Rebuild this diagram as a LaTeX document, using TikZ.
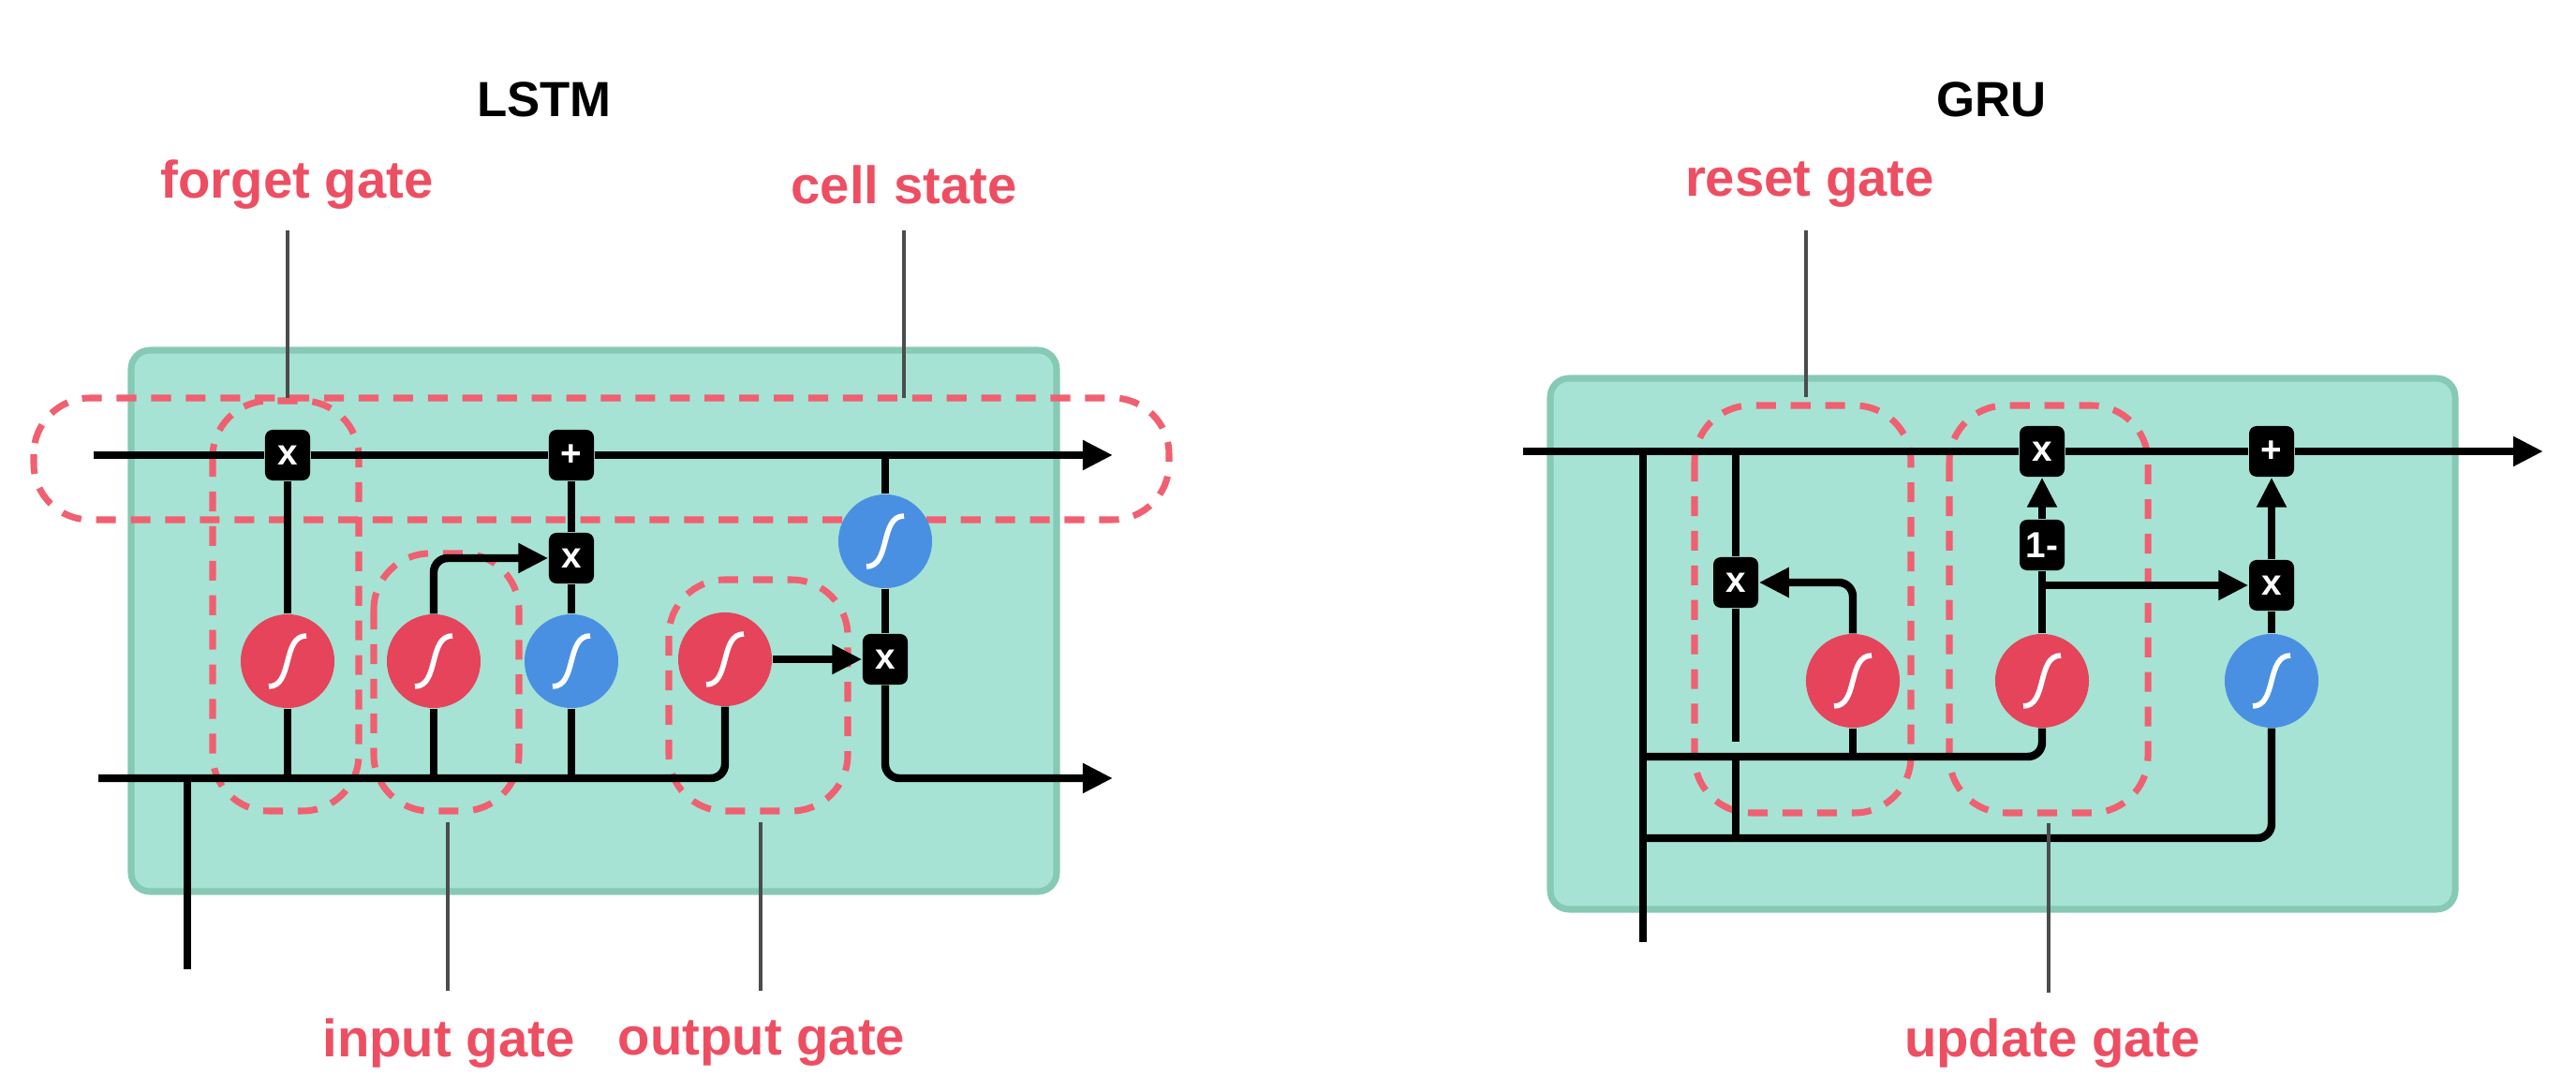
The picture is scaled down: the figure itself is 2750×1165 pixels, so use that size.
\documentclass[tikz,border=0pt]{standalone}
\usepackage{fontspec}
\setmainfont{Liberation Sans}
\usetikzlibrary{arrows.meta}
\definecolor{cellg}{HTML}{A6E3D4}
\definecolor{cellb}{HTML}{86C9B5}
\definecolor{sred}{HTML}{E5445A}
\definecolor{sblue}{HTML}{4A90E2}
\definecolor{dred}{HTML}{F06070}
\definecolor{lred}{HTML}{EE4E62}
\begin{document}
\begin{tikzpicture}[x=0.01cm,y=-0.01cm,
  cell/.style={fill=cellg,draw=cellb,line width=2pt,rounded corners=0.2cm},
  dsh/.style={draw=dred,line width=2pt,dash pattern=on 6pt off 4.5pt,rounded corners=0.6cm},
  op/.style={fill=black,text=white,rounded corners=0.08cm,minimum width=0.48cm,minimum height=0.54cm,inner sep=0pt,font=\bfseries\fontsize{11}{11}\selectfont},
  sg/.style={circle,minimum size=1cm,inner sep=0pt,fill=#1,
    path picture={\draw[white,line width=1.6pt] ([xshift=-0.2cm,yshift=-0.27cm]path picture bounding box.center) .. controls +(0.26cm,0cm) and +(-0.26cm,0cm) .. ([xshift=0.2cm,yshift=0.27cm]path picture bounding box.center);}},
  ln/.style={line width=2.4pt,rounded corners=0.15cm},
  ar/.style={ln,-{Triangle[length=0.32cm,width=0.3cm]}},
  lab/.style={text=lred,font=\bfseries\fontsize{16}{19}\selectfont},
  ttl/.style={font=\bfseries\fontsize{15}{18}\selectfont},
  pt/.style={draw=black!70,line width=1.2pt}]
\useasboundingbox (0,0) rectangle (2750,1165);
% ===== LSTM =====
\draw[cell] (140,374) rectangle (1128,952);
\draw[dsh] (36,425) rectangle (1248,555);
\draw[dsh] (227,428) rectangle (383,866);
\draw[dsh] (399,591) rectangle (554,866);
\draw[dsh] (714,619) rectangle (905,866);
\node[op] (fx) at (307,486) {x};
\node[op] (pl) at (610,486) {+};
\node[op] (ix) at (610,596) {x};
\node[op] (ox) at (945,704) {x};
\node[sg=sblue] (tt) at (945,578) {};
\node[sg=sred] (sf) at (307,706) {};
\node[sg=sred] (si) at (463,706) {};
\node[sg=sblue] (tc) at (610,706) {};
\node[sg=sred] (so) at (774,704) {};
\coordinate (cin) at (100,486);
\coordinate (cout) at (1188,486);
\coordinate (tj) at (945,486);
\coordinate (hin) at (105,831);
\coordinate (hout) at (1188,831);
\coordinate (xin) at (200,1035);
\coordinate (xj) at (200,831);
\draw[ln] (cin) -- (fx);
\draw[ln] (fx) -- (pl);
\draw[ar] (pl) -- (cout);
\draw[ln] (tj) -- (tt);
\draw[ln] (tt) -- (ox);
\draw[ar] (ox) |- (hout);
\draw[ln] (hin) -| (so);
\draw[ln] (xin) -- (xj);
\draw[ln] (sf) -- (fx);
\draw[ln] (sf) -- (sf |- hin);
\draw[ln] (si) -- (si |- hin);
\draw[ln] (tc) -- (tc |- hin);
\draw[ln] (tc) -- (ix);
\draw[ln] (ix) -- (pl);
\draw[ar] (si) |- (ix);
\draw[ar] (so) -- (ox);
% labels
\node[ttl] (lt) at (581,106) {LSTM};
\node[lab] (lf) at (317,197) {forget gate};
\node[lab] (lc) at (965,197) {cell state};
\node[lab] (li) at (479,1114) {input gate};
\node[lab] (lo) at (813,1114) {output gate};
\coordinate (pf1) at (307,246); \coordinate (pf2) at (307,425);
\coordinate (pc1) at (965,246); \coordinate (pc2) at (965,425);
\coordinate (pi1) at (478,878); \coordinate (pi2) at (478,1058);
\coordinate (po1) at (812,878); \coordinate (po2) at (812,1058);
\draw[pt] (pf1) -- (pf2);
\draw[pt] (pc1) -- (pc2);
\draw[pt] (pi1) -- (pi2);
\draw[pt] (po1) -- (po2);
% ===== GRU =====
\draw[cell] (1655,404) rectangle (2621,971);
\draw[dsh] (1809,433) rectangle (2040,868);
\draw[dsh] (2081,433) rectangle (2293,868);
\node[op] (gx) at (2180,482) {x};
\node[op] (gp) at (2425,482) {+};
\node[op] (gm) at (2180,582) {1-};
\node[op] (rx) at (1853,622) {x};
\node[op] (ux) at (2425,625) {x};
\node[sg=sred] (rs) at (1978,727) {};
\node[sg=sred] (us) at (2180,727) {};
\node[sg=sblue] (gt) at (2425,727) {};
\coordinate (gin) at (1626,482);
\coordinate (gout) at (2715,482);
\coordinate (gj) at (1754,482);
\coordinate (gb) at (1754,1006);
\coordinate (h1) at (1754,808);
\coordinate (h2) at (1754,895);
\coordinate (rj) at (1853,482);
\coordinate (re) at (1853,792);
\coordinate (r2) at (1853,812);
\coordinate (uj) at (2180,625);
\draw[ln] (gin) -- (gx);
\draw[ln] (gx) -- (gp);
\draw[ar] (gp) -- (gout);
\draw[ln] (gj) -- (gb);
\draw[ln] (h1) -| (us);
\draw[ln] (h2) -| (gt);
\draw[ln] (rs) -- (rs |- h1);
\draw[ar] (rs) |- (rx);
\draw[ln] (rj) -- (rx);
\draw[ln] (rx) -- (re);
\draw[ln] (r2) -- (r2 |- h2);
\draw[ln] (us) -- (gm);
\draw[ar] (gm) -- (gx);
\draw[ar] (uj) -- (ux);
\draw[ln] (gt) -- (ux);
\draw[ar] (ux) -- (gp);
\node[ttl] (gtl) at (2126,106) {GRU};
\node[lab] (lr) at (1932,197) {reset gate};
\node[lab] (lu) at (2191,1114) {update gate};
\coordinate (pr1) at (1928,246); \coordinate (pr2) at (1928,424);
\coordinate (pu1) at (2187,879); \coordinate (pu2) at (2187,1060);
\draw[pt] (pr1) -- (pr2);
\draw[pt] (pu1) -- (pu2);
\end{tikzpicture}
\end{document}
